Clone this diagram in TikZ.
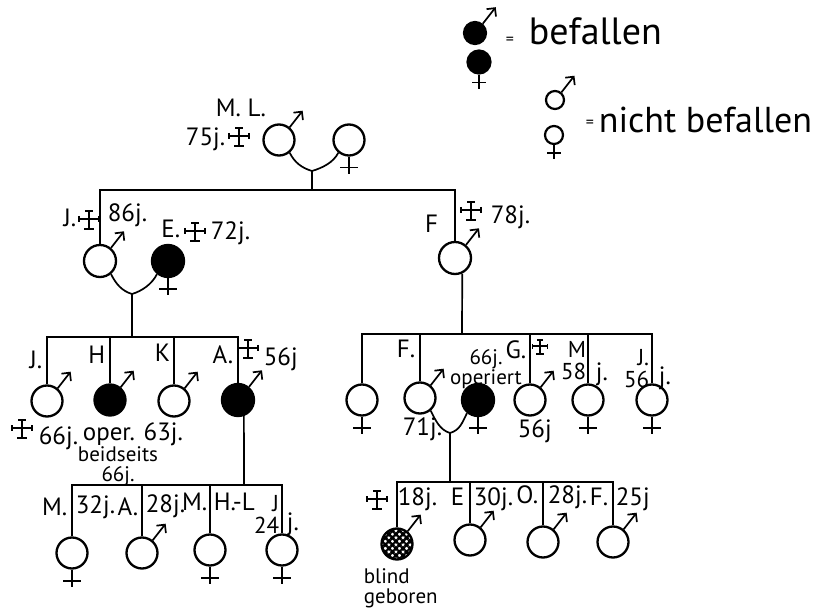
\documentclass[tikz,border=0pt]{standalone}
\usepackage{fontspec}
\setmainfont{PT Sans}
\usetikzlibrary{arrows.meta,patterns.meta}

\begin{document}
\begin{tikzpicture}[x=1pt, y=-1pt, line width=1.7pt,
  every node/.style={font=\fontsize{25}{21}\selectfont, inner sep=0pt},
  p/.style={circle, draw, line width=2.3pt, minimum size=31pt},
  af/.style={p, fill=black},
  bl/.style={p, pattern={Hatch[angle=45,distance=5pt,line width=2.4pt]}},
  lg/.style={circle, draw, line width=2.2pt, minimum size=18pt},
  t/.style={anchor=base west},
  te/.style={anchor=base east},
  sm/.style={font=\fontsize{21}{19.5}\selectfont},
  st/.style={align=right, anchor=north east, font=\fontsize{23}{21.5}\selectfont},
  ma/.style={-{Straight Barb[length=6pt,width=12pt]}},
  dc/.pic={\draw[line width=1.6pt] (0,-9) -- (0,9) (-4,-9) -- (4,-9) (-5,9) -- (5,9) (-10,-1) -- (10,-1) (-10,-4) -- (-10,2) (10,-4) -- (10,2);}]
\useasboundingbox (0,0) rectangle (814,612);

\node[lg, fill=black, minimum size=22pt] (lgm) at (475,33) {};
\node[lg, fill=black, minimum size=23pt] (lgf) at (479,62) {};
\node[lg] (lnm) at (555,100) {};
\node[lg] (lnf) at (554,135) {};
\node[t, font=\fontsize{16}{16}\selectfont] (eq1) at (505,45) {=};
\node[t, font=\fontsize{38}{38}\selectfont] (tlg1) at (528,45) {befallen};
\node[t, font=\fontsize{16}{16}\selectfont] (eq2) at (585,128) {=};
\node[t, font=\fontsize{36}{36}\selectfont] (tlg2) at (598,133) {nicht befallen};

\node[p] (ml) at (279,140) {};
\node[p] (mw) at (349,140) {};
\node[p, minimum size=32pt] (j1) at (100,261) {};
\node[af, minimum size=32pt] (e1) at (168,261) {};
\node[p, minimum size=32pt] (f1) at (455,258) {};
\node[p] (j2) at (47,401) {};
\node[af] (h) at (110,400) {};
\node[p] (k) at (174,401) {};
\node[af, minimum size=32pt] (a) at (238,400) {};
\node[p] (m1) at (72,553) {};
\node[p] (a2) at (142,553) {};
\node[p] (m2) at (210,550) {};
\node[p] (j3) at (282,550) {};
\node[p] (d1) at (362,400) {};
\node[p] (f2) at (420,398) {};
\node[af, minimum size=32pt] (fw) at (478,400) {};
\node[p] (g) at (530,400) {};
\node[p] (m3) at (588,400) {};
\node[p] (j4) at (652,400) {};
\node[bl] (b) at (397,544) {};
\node[p] (e2) at (470,540) {};
\node[p] (o) at (543,542) {};
\node[p] (f3) at (613,542) {};

\foreach \n in {lgm,lnm,ml,j1,f1,j2,h,k,a,a2,f2,g,b,e2,o,f3} \draw[ma] (\n.50) -- ++(-52:21);
\foreach \n in {mw,e1,m1,m2,j3,d1,fw,m3,j4} \draw (\n.south) -- ++(0,17) ++(-9,-6) -- ++(18,0);
\foreach \n in {lgf,lnf} \draw (\n.south) -- ++(0,14) ++(-7,-6) -- ++(14,0);

\coordinate (y1) at (312,171);
\coordinate (y2) at (132,294);
\coordinate (y3) at (450,433);
\draw (ml.-50) .. controls +(5,10) and +(-10,-3) .. (y1) .. controls +(10,-3) and +(-5,10) .. (mw.-130);
\draw (j1.-50) .. controls +(5,10) and +(-10,-3) .. (y2) .. controls +(10,-3) and +(-5,10) .. (e1.-130);
\draw (f2.-50) .. controls +(5,10) and +(-10,-3) .. (y3) .. controls +(10,-3) and +(-5,10) .. (fw.-130);

\coordinate (s1) at (312,190);
\coordinate (s2) at (132,337);
\coordinate (s3) at (244,485);
\coordinate (s4) at (462,334);
\coordinate (s5) at (450,482);
\draw (y1) -- (s1);
\draw (j1.north) |- (s1) -| (f1.north);
\draw (y2) -- (s2);
\draw (j2.north) |- (s2) -| (a.north);
\foreach \n in {h,k} \draw (\n.north) -- (\n.north |- s2);
\draw (a.-70) -- (s3);
\draw (m1.north) |- (s3) -| (j3.north);
\foreach \n in {a2,m2} \draw (\n.north) -- (\n.north |- s3);
\draw (f1.-65) -- (s4);
\draw (d1.north) |- (s4) -| (j4.north);
\foreach \n in {f2,g,m3} \draw (\n.north) -- (\n.north |- s4);
\draw (y3) -- (s5);
\draw (b.north) |- (s5) -| (f3.north);
\foreach \n in {e2,o} \draw (\n.north) -- (\n.north |- s5);

\pic at (239,137) {dc};
\pic at (89,220) {dc};
\pic at (195,232) {dc};
\pic at (471,211) {dc};
\pic at (248,349) {dc};
\pic at (22,429) {dc};
\pic[scale=.75] at (540,347) {dc};
\pic at (377,500) {dc};

\node[t] (tml) at (215,117) {M. L.};
\node[te] (tml2) at (226,146) {75j.};
\node[te] (tj1) at (77,227) {J.};
\node[t] (tj1b) at (107,222) {86j.};
\node[te] (te1) at (181,238) {E.};
\node[t] (te1b) at (210,240) {72j.};
\node[te] (tf1) at (439,233) {F};
\node[t] (tf1b) at (490,224) {78j.};
\node[te] (tj2) at (43,368) {J.};
\node[te] (th) at (106,363) {H};
\node[te] (tk) at (171,362) {K};
\node[te] (ta) at (234,363) {A.};
\node[t] (tab) at (263,365) {56j};
\node[t] (tj2b) at (38,444) {66j.};
\node[t] (th1) at (82,440) {oper. 63j.};
\node[sm, align=center, anchor=north] (th2) at (118,446) {beidseits\\66j.};
\node[te] (tm1) at (68,515) {M.};
\node[t] (tm1b) at (75,513) {32j.};
\node[te] (ta2) at (139,515) {A.};
\node[t] (ta2b) at (145,512) {28j.};
\node[te] (tm2) at (208,510) {M.};
\node[t] (tm2b) at (213,510) {H.-L};
\node[st] (tj3) at (280,495) {J\\24};
\node[t] (tj3c) at (286,530) {j.};
\node[te] (tf2) at (416,357) {F.};
\node[sm, align=center, anchor=north] (tfw) at (486,349) {66j.\\operiert};
\node[te] (tg) at (527,358) {G.};
\node[st] (tm3) at (587,341) {M\\58};
\node[t] (tm3c) at (595,381) {j.};
\node[st] (tj4) at (650,349) {J.\\56};
\node[t] (tj4c) at (658,384) {j.};
\node[t] (tf2b) at (402,435) {71j.};
\node[t] (tgb) at (517,437) {56j};
\node[t] (tb) at (397,505) {18j.};
\node[te] (te2) at (465,505) {E};
\node[t] (te2b) at (473,505) {30j.};
\node[te] (to) at (539,503) {O.};
\node[t] (tob) at (547,503) {28j.};
\node[te] (tf3) at (609,505) {F.};
\node[t] (tf3b) at (615,505) {25j};
\node[sm, align=left, anchor=north west] (tb2) at (363,568) {blind\\geboren};
\end{tikzpicture}
\end{document}
